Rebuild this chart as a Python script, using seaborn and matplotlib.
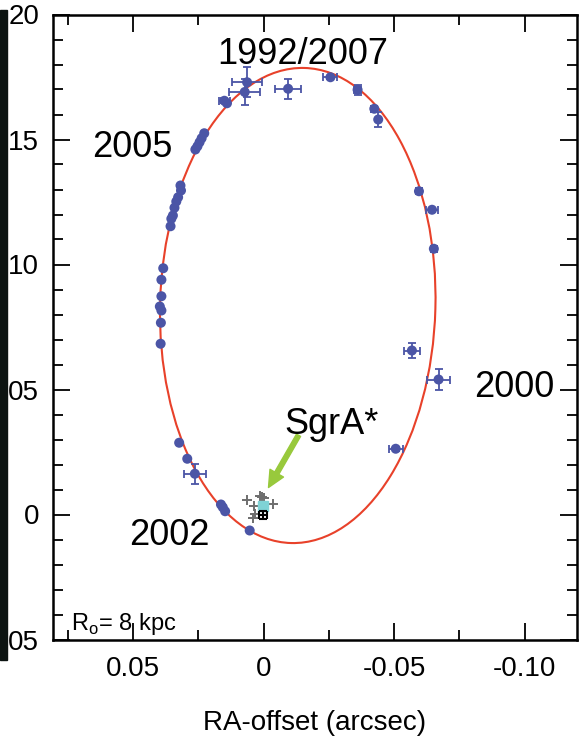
#!/usr/bin/env python3
"""S2 orbit around SgrA*: astrometric positions with the fitted Keplerian ellipse."""

import matplotlib

matplotlib.use("Agg")

import matplotlib.pyplot as plt
from matplotlib.patches import Ellipse, Rectangle
from matplotlib.ticker import FixedLocator, MultipleLocator
import seaborn as sns

sns.set_theme(style="ticks")
plt.rcParams["font.family"] = ["Liberation Sans", "DejaVu Sans"]
plt.rcParams["mathtext.fontset"] = "custom"
plt.rcParams["mathtext.rm"] = "Liberation Sans"
plt.rcParams["text.color"] = "black"
plt.rcParams["axes.labelcolor"] = "black"

BLUE = "#4b55a6"
RED = "#e8412a"
GREEN = "#98c93c"

# S2 positions (arcsec) and 1-sigma errors
s2_ra = [0.0150, 0.0140, 0.0072, 0.0063, -0.0094, -0.0256, -0.0360, -0.0424,
         -0.0439, -0.0595, -0.0645, -0.0652, -0.0568, -0.0670, -0.0506,
         0.0261, 0.0253, 0.0245, 0.0237, 0.0227,
         0.0318, 0.0316, 0.0327, 0.0334, 0.0341, 0.0347, 0.0353, 0.0356,
         0.0384, 0.0391, 0.0391, 0.0397, 0.0391, 0.0393, 0.0394,
         0.0323, 0.0292, 0.0263, 0.0163, 0.0156, 0.0147, 0.0053]
s2_dec = [0.1655, 0.1645, 0.1690, 0.1729, 0.1703, 0.1749, 0.1699, 0.1623,
          0.1580, 0.1293, 0.1219, 0.1063, 0.0656, 0.0540, 0.0263,
          0.1460, 0.1473, 0.1489, 0.1505, 0.1525,
          0.1316, 0.1296, 0.1269, 0.1252, 0.1227, 0.1196, 0.1183, 0.1153,
          0.0985, 0.0939, 0.0873, 0.0832, 0.0816, 0.0767, 0.0683,
          0.0287, 0.0223, 0.0163, 0.0040, 0.0029, 0.0013, -0.0064]
s2_ra_err = [0.0020, 0.0, 0.0060, 0.0057, 0.0050, 0.0027, 0.0012, 0.0012,
             0.0, 0.0012, 0.0022, 0.0012, 0.0030, 0.0044, 0.0027,
             0, 0, 0, 0, 0,
             0, 0, 0, 0, 0, 0, 0, 0,
             0, 0, 0, 0, 0, 0, 0,
             0, 0, 0.0042, 0, 0, 0, 0]
s2_dec_err = [0.0010, 0.0, 0.0053, 0.0060, 0.0040, 0.0005, 0.0020, 0.0012,
              0.0030, 0.0012, 0.0008, 0.0012, 0.0030, 0.0043, 0.0008,
              0, 0, 0, 0, 0,
              0, 0, 0, 0, 0, 0, 0, 0,
              0, 0, 0, 0, 0, 0, 0,
              0, 0, 0.0040, 0, 0, 0, 0]

# reference-frame stars near SgrA*
ref_ra = [0.0064, 0.0038, 0.0015, 0.0006, -0.0003, -0.0038, 0.0041, 0.0032]
ref_dec = [0.0057, 0.0033, 0.0073, 0.0070, 0.0065, 0.0041, -0.0012, 0.0004]

# SgrA* (radio) and mass centre
sgr_ra, sgr_dec = 0.0002, 0.0033
mass_ra, mass_dec, mass_err = 0.0002, 0.0, 0.0016

# fitted orbit ellipse
orbit_center = (-0.0131, 0.0836)
orbit_width = 0.1054
orbit_height = 0.1901
orbit_angle = 1.5

years = ["1992/2007", "2005", "2000", "2002"]
year_ra = [-0.0152, 0.0503, -0.0961, 0.0361]
year_dec = [0.1804, 0.1430, 0.0470, -0.0123]

x_ticks = [0.05, 0.0, -0.05, -0.10]
x_labels = ["0.05", "0", "-0.05", "-0.10"]
y_ticks = [-0.05, 0.0, 0.05, 0.10, 0.15, 0.20]
y_labels = ["05", "0", "05", "10", "15", "20"]

fig = plt.figure(figsize=(5.82, 7.42), dpi=100)
fig.patches.append(Rectangle((0, 82 / 742), 7 / 582, 650 / 742,
                             transform=fig.transFigure, color="#0c1412", zorder=0))
ax = fig.add_axes([53 / 582, 102.5 / 742, 524 / 582, 625 / 742])

ax.add_patch(Ellipse(orbit_center, orbit_width, orbit_height, angle=orbit_angle,
                     fill=False, edgecolor=RED, linewidth=1.5, zorder=2))

ax.errorbar(s2_ra, s2_dec, xerr=s2_ra_err, yerr=s2_dec_err, fmt="none",
            ecolor=BLUE, elinewidth=1.3, capsize=3, capthick=1.3, zorder=3)
sns.scatterplot(x=s2_ra, y=s2_dec, ax=ax, color=BLUE, s=52, edgecolor="none",
                zorder=4, legend=False)

ax.plot(ref_ra, ref_dec, "+", color="#6e6e6e", markersize=7.5, markeredgewidth=1.4, zorder=3)
ax.plot(sgr_ra, sgr_dec, "s", color="#7fd3d6", markersize=7, zorder=4)
ax.errorbar(mass_ra, mass_dec, xerr=mass_err, yerr=mass_err, fmt="none",
            ecolor="black", elinewidth=1.5, capsize=3, capthick=1.5, zorder=5)

ax.annotate("", xy=(-0.0019, 0.0108), xytext=(-0.0134, 0.0317),
            arrowprops=dict(arrowstyle="simple,head_length=0.85,head_width=0.8,tail_width=0.24",
                            color=GREEN, mutation_scale=14, shrinkA=0, shrinkB=0))
ax.text(-0.0262, 0.0324, "SgrA*", fontsize=26, ha="center", va="baseline")

for label, x, y in zip(years, year_ra, year_dec):
    ax.text(x, y, label, fontsize=26, ha="center", va="baseline")

ax.text(0.0737, -0.0463, r"R$_\mathrm{o}$= 8 kpc", fontsize=17, ha="left", va="baseline")

ax.set_xlim(0.0806, -0.120)
ax.set_ylim(-0.05, 0.20)
ax.xaxis.set_major_locator(FixedLocator(x_ticks))
ax.set_xticklabels(x_labels)
ax.yaxis.set_major_locator(FixedLocator(y_ticks))
ax.set_yticklabels(y_labels)
ax.xaxis.set_minor_locator(MultipleLocator(0.025))
ax.yaxis.set_minor_locator(MultipleLocator(0.01))

ax.tick_params(which="both", direction="in", top=True, right=True, colors="black",
               width=1.3, labelsize=20)
ax.tick_params(which="major", length=12)
ax.tick_params(which="minor", length=7.5)
ax.tick_params(axis="x", which="major", pad=12)
ax.tick_params(axis="y", which="major", pad=10)

for spine in ax.spines.values():
    spine.set_linewidth(1.8)
    spine.set_color("black")

ax.set_xlabel("RA-offset (arcsec)", fontsize=20)
ax.xaxis.set_label_coords(0.5, -0.112)
ax.set_ylabel("")

fig.savefig("out.png", dpi=100)
